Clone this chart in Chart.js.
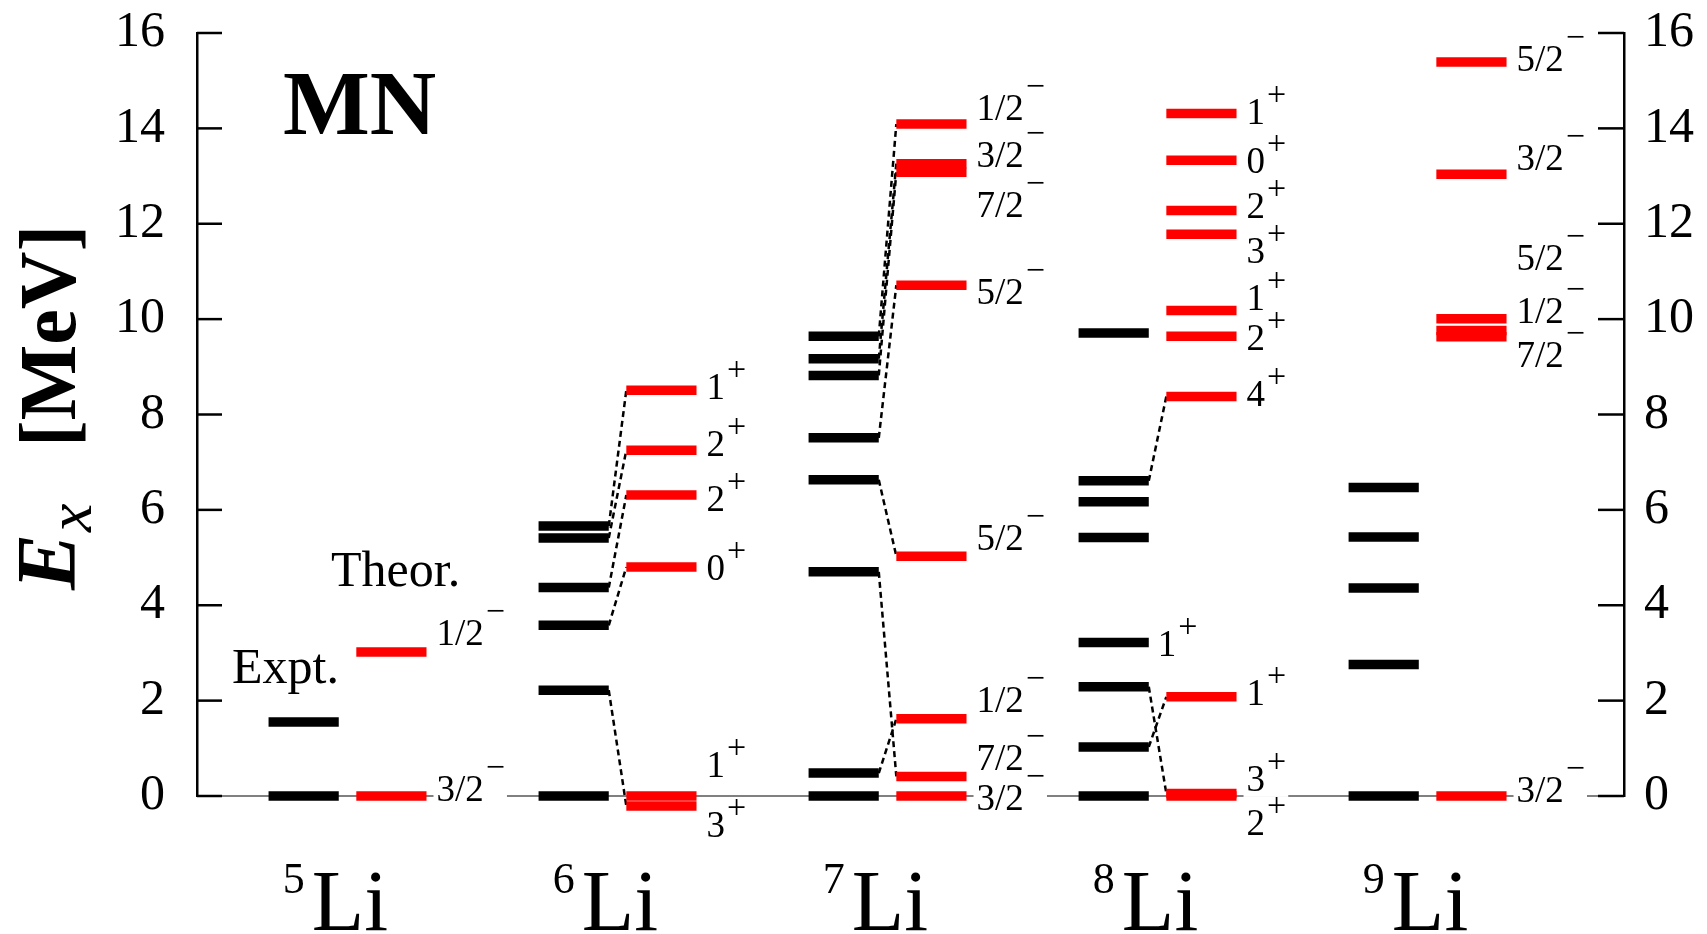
<!DOCTYPE html>
<html>
<head>
<meta charset="utf-8">
<script src="https://cdn.jsdelivr.net/npm/chart.js@4.4.0/dist/chart.umd.min.js"></script>
<style>
  html, body { margin: 0; padding: 0; background: #fff; }
  canvas { display: block; }
</style>
</head>
<body>
<canvas id="levelChart" width="1707" height="934"></canvas>
<script>
// mass numbers of the Li isotopes, one column each
const nuclei = ['5', '6', '7', '8', '9'];

// experimental levels [MeV]
const exptLevels = [
  [0, 1.55],
  [0, 2.22, 3.58, 4.37, 5.41, 5.66],
  [0, 0.48, 4.70, 6.63, 7.51, 8.82, 9.17, 9.64],
  [0, 1.03, 2.29, 3.22, 5.42, 6.17, 6.61, 9.71],
  [0, 2.76, 4.36, 5.43, 6.47]
];
const exptSpins = [
  [], [], [],
  [null, null, null, '1+'],
  []
];
const exptLabelAt = [
  [], [], [],
  [null, null, null, 3.20],
  []
];

// theoretical levels [MeV] with spin-parity
const theorLevels = [
  [0, 3.02],
  [0, -0.21, 4.80, 6.31, 7.25, 8.51],
  [0, 0.41, 1.62, 5.03, 10.71, 13.08, 13.26, 14.09],
  [0.05, 0, 2.08, 8.38, 9.64, 10.18, 11.78, 12.28, 13.33, 14.31],
  [0, 9.63, 9.76, 10.01, 13.04, 15.39]
];
const theorSpins = [
  ['3/2-', '1/2-'],
  ['1+', '3+', '0+', '2+', '2+', '1+'],
  ['3/2-', '7/2-', '1/2-', '5/2-', '5/2-', '7/2-', '3/2-', '1/2-'],
  ['3+', '2+', '1+', '4+', '2+', '1+', '3+', '2+', '0+', '1+'],
  ['3/2-', '7/2-', '1/2-', '5/2-', '3/2-', '5/2-']
];
// label centres [MeV], spread apart so they don't collide
const theorLabelAt = [
  [0.16, 3.43],
  [0.66, -0.60, 4.79, 6.24, 7.39, 8.58],
  [-0.03, 0.81, 2.03, 5.43, 10.59, 12.41, 13.45, 14.43],
  [0.37, -0.56, 2.18, 8.45, 9.61, 10.45, 11.44, 12.39, 13.33, 14.36],
  [0.14, 9.26, 10.18, 11.30, 13.40, 15.46]
];

// expt -> theor correspondence: [nucleus, expt index, theor index]
const links = [
  [1, 1, 1], [1, 2, 2], [1, 3, 3], [1, 4, 4], [1, 5, 5],
  [2, 1, 2], [2, 2, 1], [2, 3, 3], [2, 4, 4], [2, 5, 5], [2, 6, 6], [2, 7, 7],
  [3, 1, 2], [3, 2, 0], [3, 6, 3]
];

const yTicks = [0, 2, 4, 6, 8, 10, 12, 14, 16];

// column geometry in x units (one unit per nucleus)
const X_MAX = 5.285;
const EXPT_L = 0.265, EXPT_R = 0.525, TH_L = 0.59, TH_R = 0.85;
const SERIF = '"Liberation Serif", "Times New Roman", serif';

function levelSet(x0, x1, e, color) {
  return {
    data: [{x: x0, y: e}, {x: x1, y: e}],
    borderColor: color,
    borderWidth: 9.5,
    borderCapStyle: 'butt',
    showLine: true,
    pointRadius: 0,
    clip: false,
    order: 0
  };
}

const datasets = [];
// thin line at zero energy
datasets.push({
  data: [{x: 0, y: 0}, {x: X_MAX, y: 0}],
  borderColor: '#808080', borderWidth: 2,
  showLine: true, pointRadius: 0, clip: false, order: 2
});
nuclei.forEach((n, i) => {
  exptLevels[i].forEach(e => datasets.push(levelSet(i + EXPT_L, i + EXPT_R, e, '#000000')));
  theorLevels[i].forEach(e => datasets.push(levelSet(i + TH_L, i + TH_R, e, '#ff0000')));
});
links.forEach(([i, a, b]) => {
  datasets.push({
    data: [{x: i + EXPT_R, y: exptLevels[i][a]}, {x: i + TH_L, y: theorLevels[i][b]}],
    borderColor: '#000', borderWidth: 2.5, borderDash: [6, 4],
    showLine: true, pointRadius: 0, clip: false, order: 1
  });
});

function drawSpin(ctx, text, x, yc, size, boxOnly) {
  const base = text.slice(0, -1);
  const plus = text.slice(-1) === '+';
  const sign = plus ? '+' : '\u2212';
  const sup = Math.round(size * 0.92);
  ctx.font = size + 'px ' + SERIF;
  const wb = ctx.measureText(base).width;
  ctx.font = sup + 'px ' + SERIF;
  const ws = ctx.measureText(sign).width;
  const baseline = yc + size * 0.34;
  if (boxOnly) {
    ctx.fillStyle = '#fff';
    ctx.fillRect(x - 3, yc - size * 0.72, wb + ws + 7, size * 1.2);
    return;
  }
  ctx.fillStyle = '#000';
  ctx.textAlign = 'left';
  ctx.textBaseline = 'alphabetic';
  ctx.font = size + 'px ' + SERIF;
  ctx.fillText(base, x, baseline);
  ctx.font = sup + 'px ' + SERIF;
  ctx.fillText(sign, x + wb + 2, baseline - (plus ? 19 : 23));
}

const decor = {
  id: 'decor',
  afterDatasetsDraw(chart) {
    const {ctx, chartArea, scales} = chart;
    const xs = scales.x, ys = scales.y;
    ctx.save();

    // inward tick marks on both axes
    ctx.strokeStyle = '#000';
    ctx.lineWidth = 2.5;
    yTicks.forEach(v => {
      const y = ys.getPixelForValue(v);
      ctx.beginPath(); ctx.moveTo(chartArea.left, y); ctx.lineTo(chartArea.left + 25, y); ctx.stroke();
      ctx.beginPath(); ctx.moveTo(chartArea.right, y); ctx.lineTo(chartArea.right - 26, y); ctx.stroke();
    });

    // spin labels: white boxes first, then the text
    const items = [];
    nuclei.forEach((n, i) => {
      theorSpins[i].forEach((s, k) => {
        items.push([s, xs.getPixelForValue(i + TH_R) + 10, ys.getPixelForValue(theorLabelAt[i][k])]);
      });
      exptSpins[i].forEach((s, k) => {
        if (s) items.push([s, xs.getPixelForValue(i + EXPT_R) + 9, ys.getPixelForValue(exptLabelAt[i][k])]);
      });
    });
    items.forEach(it => drawSpin(ctx, it[0], it[1], it[2], 37, true));
    items.forEach(it => drawSpin(ctx, it[0], it[1], it[2], 37, false));

    // nucleus names under the columns
    ctx.fillStyle = '#000';
    ctx.textBaseline = 'alphabetic';
    ctx.textAlign = 'left';
    nuclei.forEach((n, i) => {
      const c = xs.getPixelForValue(i + (EXPT_L + TH_R) / 2) - 12;
      ctx.font = '44px ' + SERIF;
      const wn = ctx.measureText(n).width;
      ctx.font = '86px ' + SERIF;
      const wl = ctx.measureText('Li').width;
      const x0 = c - (wn + 7 + wl) / 2;
      ctx.font = '44px ' + SERIF;
      ctx.fillText(n, x0, 893);
      ctx.font = '86px ' + SERIF;
      ctx.fillText('Li', x0 + wn + 7, 930);
    });

    // annotations
    ctx.font = 'bold 92px ' + SERIF;
    ctx.fillText('MN', 283, 134);
    ctx.font = '50px ' + SERIF;
    ctx.fillText('Expt.', 232, 683);
    ctx.fillText('Theor.', 331, 586);

    // y title, rotated
    ctx.translate(75, 590);
    ctx.rotate(-Math.PI / 2);
    ctx.font = 'italic bold 84px ' + SERIF;
    ctx.fillText('E', 0, 0);
    const we = ctx.measureText('E').width;
    ctx.font = 'italic 64px ' + SERIF;
    ctx.fillText('x', we + 2, 16);
    ctx.font = 'bold 80px ' + SERIF;
    ctx.fillText('[MeV]', 143, 0);

    ctx.restore();
  }
};

const tickFont = {family: 'Liberation Serif', size: 50};

new Chart(document.getElementById('levelChart'), {
  type: 'scatter',
  data: {datasets: datasets},
  options: {
    responsive: false,
    animation: false,
    events: [],
    layout: {padding: {top: 33, bottom: 138, left: 0, right: 0}},
    plugins: {legend: {display: false}, tooltip: {enabled: false}},
    scales: {
      x: {type: 'linear', min: 0, max: X_MAX, display: false},
      y: {
        position: 'left', min: 0, max: 16,
        ticks: {stepSize: 2, font: tickFont, color: '#000', padding: 32},
        grid: {display: false, drawTicks: false},
        border: {display: true, color: '#000', width: 2.5},
        afterFit(s) { s.width = 197; s.paddingTop = 0; s.paddingBottom = 0; }
      },
      y2: {
        position: 'right', min: 0, max: 16,
        ticks: {stepSize: 2, font: tickFont, color: '#000', padding: 20},
        grid: {display: false, drawTicks: false},
        border: {display: true, color: '#000', width: 2.5},
        afterFit(s) { s.width = 83; s.paddingTop = 0; s.paddingBottom = 0; }
      }
    }
  },
  plugins: [decor]
});
</script>
</body>
</html>
